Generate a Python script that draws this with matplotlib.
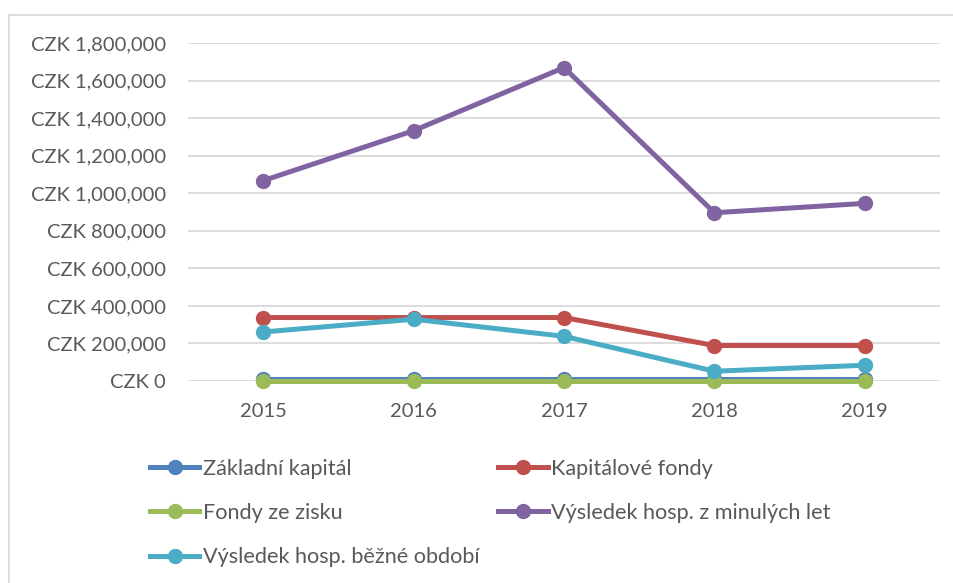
import matplotlib.pyplot as plt
from matplotlib.ticker import FuncFormatter
from matplotlib.lines import Line2D

plt.rcParams['font.family'] = ['Lato', 'DejaVu Sans']

years = ['2015', '2016', '2017', '2018', '2019']
zakladni_kapital = [8000, 8000, 8000, 8000, 8000]
kapitalove_fondy = [338000, 338000, 338000, 189000, 189000]
fondy_ze_zisku = [1000, 1000, 1000, 1000, 1000]
vysledek_minulych = [1067000, 1333000, 1669000, 896000, 946000]
vysledek_bezne = [261000, 329000, 238000, 52000, 84000]

series = [
    ('Základní kapitál', zakladni_kapital, '#4F81BD'),
    ('Kapitálové fondy', kapitalove_fondy, '#C0504D'),
    ('Fondy ze zisku', fondy_ze_zisku, '#9BBB59'),
    ('Výsledek hosp. z minulých let', vysledek_minulych, '#8064A2'),
    ('Výsledek hosp. běžné období', vysledek_bezne, '#4BACC6'),
]

txt = '#595959'
fig = plt.figure(figsize=(9.54, 5.83), dpi=100)
ax = fig.add_axes([188 / 954, 1 - 381 / 583, 752 / 954, 338 / 583])

x = list(range(len(years)))
handles = []
for name, vals, col in series:
    ln, = ax.plot(x, vals, color=col, lw=3.6, marker='o', markersize=10,
                  clip_on=False, zorder=3, label=name)
    handles.append(ln)

ax.set_xlim(-0.5, len(years) - 0.5)
ax.set_ylim(0, 1800000)
ax.set_yticks(range(0, 1800001, 200000))
ax.yaxis.set_major_formatter(FuncFormatter(lambda v, p: 'CZK {:,.0f}'.format(v)))
ax.set_xticks(x)
ax.set_xticklabels(years)
ax.grid(axis='y', color='#D9D9D9', lw=1.3)
ax.set_axisbelow(True)
for s in ax.spines.values():
    s.set_visible(False)
ax.tick_params(axis='both', length=0, labelsize=14.5, colors=txt)
ax.tick_params(axis='y', pad=16)
ax.tick_params(axis='x', pad=16)

order = [0, 2, 4, 1, 3]
fig.legend([handles[i] for i in order], [series[i][0] for i in order],
           ncol=2, loc='upper left', bbox_to_anchor=(141 / 954, 1 - 450 / 583),
           frameon=False, fontsize=15.6, labelcolor=txt, handlelength=2.3,
           handletextpad=0.15, columnspacing=0.85, labelspacing=1.12,
           borderaxespad=0)

# chart border (left and top edges visible)
fig.add_artist(Line2D([9.5 / 954, 9.5 / 954], [0, 1 - 14.5 / 583], color='#D9D9D9', lw=1.3))
fig.add_artist(Line2D([9.5 / 954, 1], [1 - 14.5 / 583, 1 - 14.5 / 583], color='#D9D9D9', lw=1.3))

fig.savefig('out.png', dpi=100)
